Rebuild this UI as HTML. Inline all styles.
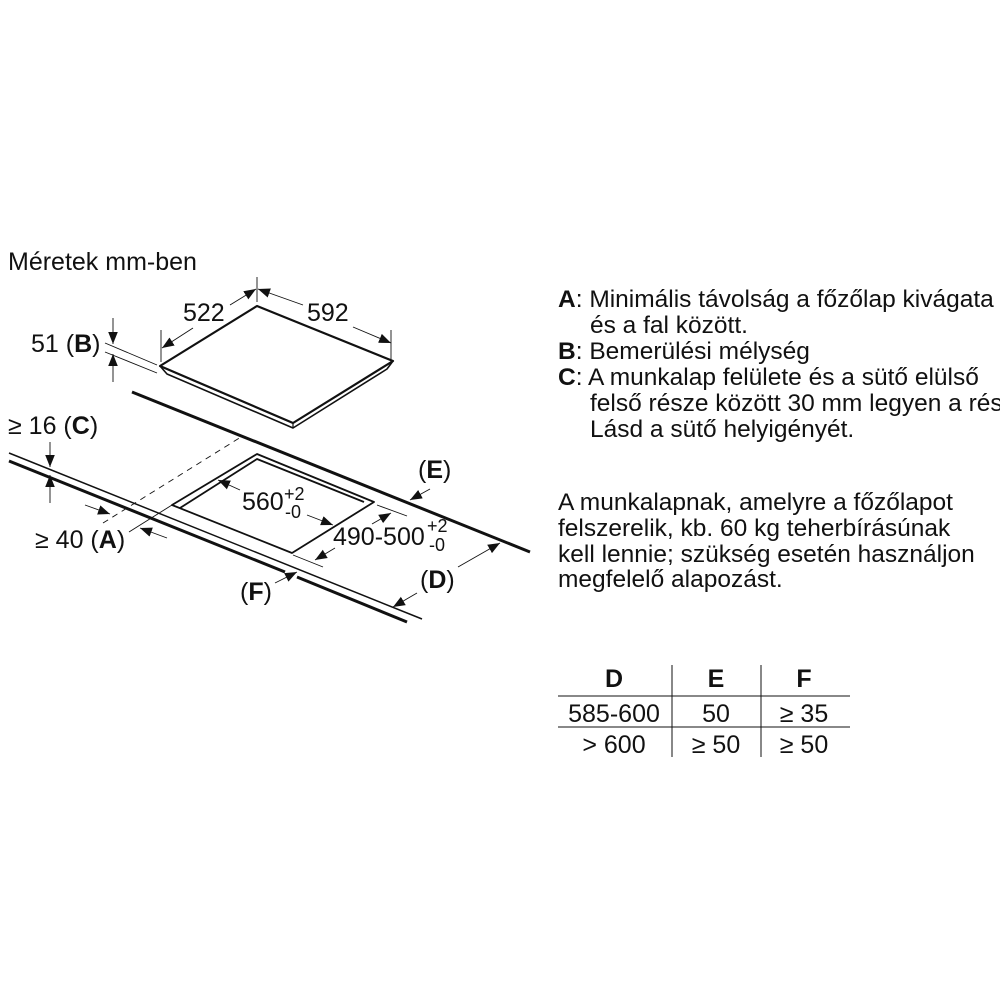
<!DOCTYPE html>
<html><head><meta charset="utf-8"><style>
html,body{margin:0;padding:0;background:#fff;}
svg{display:block;}
text{font-family:"Liberation Sans",Arial,sans-serif;fill:#111;}
</style></head><body>
<svg width="1000" height="1000" viewBox="0 0 1000 1000" xmlns="http://www.w3.org/2000/svg">
<defs>
<marker id="ar" viewBox="0 0 10 10" refX="10" refY="5" markerWidth="12" markerHeight="12" markerUnits="userSpaceOnUse" orient="auto">
<path d="M0,1 L10,5 L0,9 z" fill="#111"/>
</marker>
</defs>
<text x="8" y="270" font-size="25">Méretek mm-ben</text>

<!-- hob -->
<g stroke="#111" fill="none" stroke-linejoin="round">
<path d="M160,366 L257,306 L393,361 L293,423 Z" stroke-width="2.2"/>
<path d="M160,366 L167,374 L293,428 L387,369 L393,361" stroke-width="1.6"/>
<path d="M293,423 L293,428" stroke-width="1.2"/>
</g>
<!-- hob dims -->
<g stroke="#111" stroke-width="0.9" fill="none">
<line x1="257" y1="277" x2="257" y2="302"/>
<line x1="161" y1="330" x2="161" y2="362"/>
<line x1="391" y1="330" x2="391" y2="360"/>
<line x1="230" y1="305" x2="256" y2="289" marker-end="url(#ar)"/>
<line x1="193" y1="328" x2="162" y2="348" marker-end="url(#ar)"/>
<line x1="303" y1="305" x2="258" y2="289" marker-end="url(#ar)"/>
<line x1="353" y1="327" x2="391" y2="343" marker-end="url(#ar)"/>
<line x1="105" y1="343" x2="157" y2="365"/>
<line x1="105" y1="352" x2="157" y2="373"/>
<line x1="113" y1="318" x2="113" y2="344" marker-end="url(#ar)"/>
<line x1="113" y1="382" x2="113" y2="354" marker-end="url(#ar)"/>
</g>
<text x="183" y="321" font-size="25">522</text>
<text x="307" y="321" font-size="25">592</text>
<text x="31" y="352" font-size="25">51 (<tspan font-weight="bold">B</tspan>)</text>

<!-- worktop lines -->
<g stroke="#111" fill="none">
<line x1="132" y1="392" x2="530" y2="552" stroke-width="3"/>
<line x1="9" y1="453" x2="422" y2="619" stroke-width="1.5"/>
<line x1="9" y1="461" x2="285" y2="572" stroke-width="3"/>
<line x1="297" y1="577" x2="407" y2="622" stroke-width="3"/>
<line x1="103" y1="523" x2="241" y2="437" stroke-width="0.9" stroke-dasharray="6,5"/>
<line x1="129" y1="532" x2="172" y2="505" stroke-width="0.9"/>
</g>
<!-- cutout -->
<g stroke="#111" fill="none" stroke-width="1.8" stroke-linejoin="round">
<path d="M172,505 L257,454 L374,502 L292,553 Z"/>
<path d="M180,508 L257,459 L364,502"/>
</g>
<!-- dims lower -->
<g stroke="#111" stroke-width="0.9" fill="none">
<line x1="50" y1="442" x2="50" y2="467" marker-end="url(#ar)"/>
<line x1="50" y1="503" x2="50" y2="475" marker-end="url(#ar)"/>
<line x1="85" y1="505" x2="110" y2="514" marker-end="url(#ar)"/>
<line x1="167" y1="538" x2="140" y2="528" marker-end="url(#ar)"/>
<line x1="240" y1="490" x2="218" y2="480" marker-end="url(#ar)"/>
<line x1="307" y1="515" x2="333" y2="525" marker-end="url(#ar)"/>
<line x1="377" y1="505" x2="407" y2="516"/>
<line x1="293" y1="555" x2="323" y2="567"/>
<line x1="372" y1="524" x2="391" y2="513" marker-end="url(#ar)"/>
<line x1="335" y1="548" x2="315" y2="560" marker-end="url(#ar)"/>
<line x1="430" y1="489" x2="410" y2="500" marker-end="url(#ar)"/>
<line x1="458" y1="567" x2="500" y2="543" marker-end="url(#ar)"/>
<line x1="417" y1="593" x2="393" y2="607" marker-end="url(#ar)"/>
<line x1="275" y1="583" x2="297" y2="572" marker-end="url(#ar)"/>
</g>
<text x="8" y="434" font-size="25">≥ 16 (<tspan font-weight="bold">C</tspan>)</text>
<text x="35" y="548" font-size="25">≥ 40 (<tspan font-weight="bold">A</tspan>)</text>
<text x="242" y="510" font-size="25">560</text>
<text x="284" y="500" font-size="18">+2</text>
<text x="285" y="518" font-size="18">-0</text>
<text x="333" y="545" font-size="25">490-500</text>
<text x="427" y="532" font-size="18">+2</text>
<text x="429" y="551" font-size="18">-0</text>
<text x="418" y="478" font-size="25">(<tspan font-weight="bold">E</tspan>)</text>
<text x="420" y="588" font-size="25">(<tspan font-weight="bold">D</tspan>)</text>
<text x="240" y="600" font-size="25">(<tspan font-weight="bold">F</tspan>)</text>

<!-- right text -->
<g font-size="24.5">
<text x="558" y="307"><tspan font-weight="bold">A</tspan>: Minimális távolság a főzőlap kivágata</text>
<text x="590" y="333">és a fal között.</text>
<text x="558" y="359"><tspan font-weight="bold">B</tspan>: Bemerülési mélység</text>
<text x="558" y="385"><tspan font-weight="bold">C</tspan>: A munkalap felülete és a sütő elülső</text>
<text x="590" y="411">felső része között 30 mm legyen a rés</text>
<text x="590" y="437">Lásd a sütő helyigényét.</text>
<text x="558" y="510">A munkalapnak, amelyre a főzőlapot</text>
<text x="558" y="536">felszerelik, kb. 60 kg teherbírásúnak</text>
<text x="558" y="562">kell lennie; szükség esetén használjon</text>
<text x="558" y="587">megfelelő alapozást.</text>
</g>
<!-- table -->
<g stroke="#111" stroke-width="1">
<line x1="672" y1="665" x2="672" y2="757"/>
<line x1="761" y1="665" x2="761" y2="757"/>
<line x1="558" y1="696" x2="850" y2="696"/>
<line x1="558" y1="727" x2="850" y2="727"/>
</g>
<g font-size="25" text-anchor="middle">
<text x="614" y="687" font-weight="bold">D</text>
<text x="716" y="687" font-weight="bold">E</text>
<text x="804" y="687" font-weight="bold">F</text>
<text x="614" y="722">585-600</text>
<text x="716" y="722">50</text>
<text x="804" y="722">≥ 35</text>
<text x="614" y="753">&gt; 600</text>
<text x="716" y="753">≥ 50</text>
<text x="804" y="753">≥ 50</text>
</g>
</svg>
</body></html>
